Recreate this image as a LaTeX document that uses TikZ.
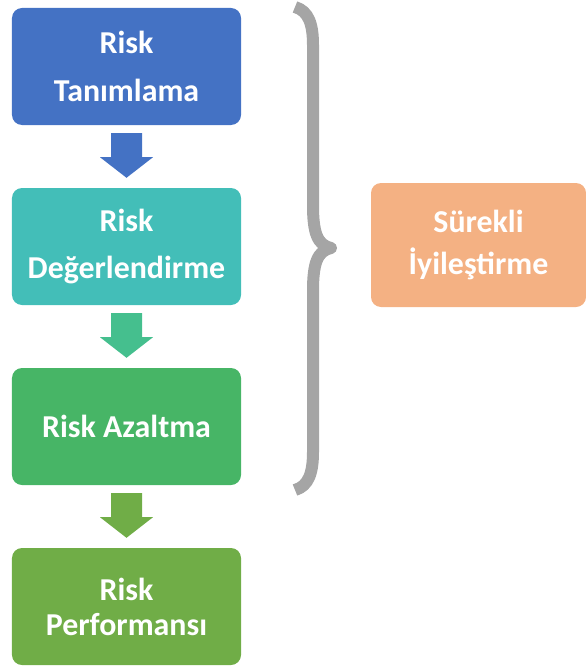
\documentclass[tikz,border=0pt]{standalone}
\usepackage{fontspec}
\setmainfont{Carlito}
\usetikzlibrary{calc}
\definecolor{stepblue}{HTML}{4472C4}
\definecolor{stepteal}{HTML}{43BEB8}
\definecolor{arrowmint}{HTML}{45BF8E}
\definecolor{stepgreen}{HTML}{47B566}
\definecolor{stepolive}{HTML}{70AD47}
\definecolor{steporange}{HTML}{F4B183}
\definecolor{bracegray}{HTML}{A5A5A5}

% block arrow from the bottom of one box to the top of the next
\newcommand\flowarrow[3]{%
  \fill[#3] ($(#1.south)+(-15.5,8)$) -- ($(#1.south)+(15.5,8)$)
    -- ($(#1.south)+(15.5,32)$) -- ($(#1.south)+(26.5,32)$)
    -- ($(#2.north)+(0,-10)$)
    -- ($(#1.south)+(-26.5,32)$) -- ($(#1.south)+(-15.5,32)$) -- cycle;}

\begin{document}
\begin{tikzpicture}[x=1bp,y=-1bp,
  stepbox/.style={rounded corners=10bp, minimum width=229bp, minimum height=117bp,
    inner sep=0pt, text=white, align=center,
    font=\fontsize{32}{48}\selectfont\bfseries},
  sidebox/.style={stepbox, minimum width=215bp, minimum height=124bp,
    font=\fontsize{32}{42}\selectfont\bfseries}]
\useasboundingbox (0,0) rectangle (586,671);

\node[stepbox, fill=stepblue]   (tanim)  at (126.5,66.5)  {Risk\\Tanımlama};
\node[stepbox, fill=stepteal]   (deger)  at (126.5,246.5) {Risk\\Değerlendirme};
\node[stepbox, fill=stepgreen]  (azalt)  at (126.5,426.5) {Risk Azaltma};
\node[stepbox, fill=stepolive, font=\fontsize{32}{35}\selectfont\bfseries]
                                (perf)   at (126.5,606.5) {Risk\\Performansı};
\node[sidebox, fill=steporange] (surekli) at (478.5,245)  {Sürekli\\İyileştirme};

\flowarrow{tanim}{deger}{stepblue}
\flowarrow{deger}{azalt}{arrowmint}
\flowarrow{azalt}{perf}{stepolive}

% curly brace grouping the first three steps
\draw[bracegray, line width=12bp, line join=round]
  (295,7) .. controls (309,11) and (313,25) .. (313,45)
  -- (313,205) .. controls (313,232) and (317,245) .. (331,248)
  .. controls (317,251) and (313,264) .. (313,291)
  -- (313,452) .. controls (313,472) and (309,486) .. (295,490);
\end{tikzpicture}
\end{document}
